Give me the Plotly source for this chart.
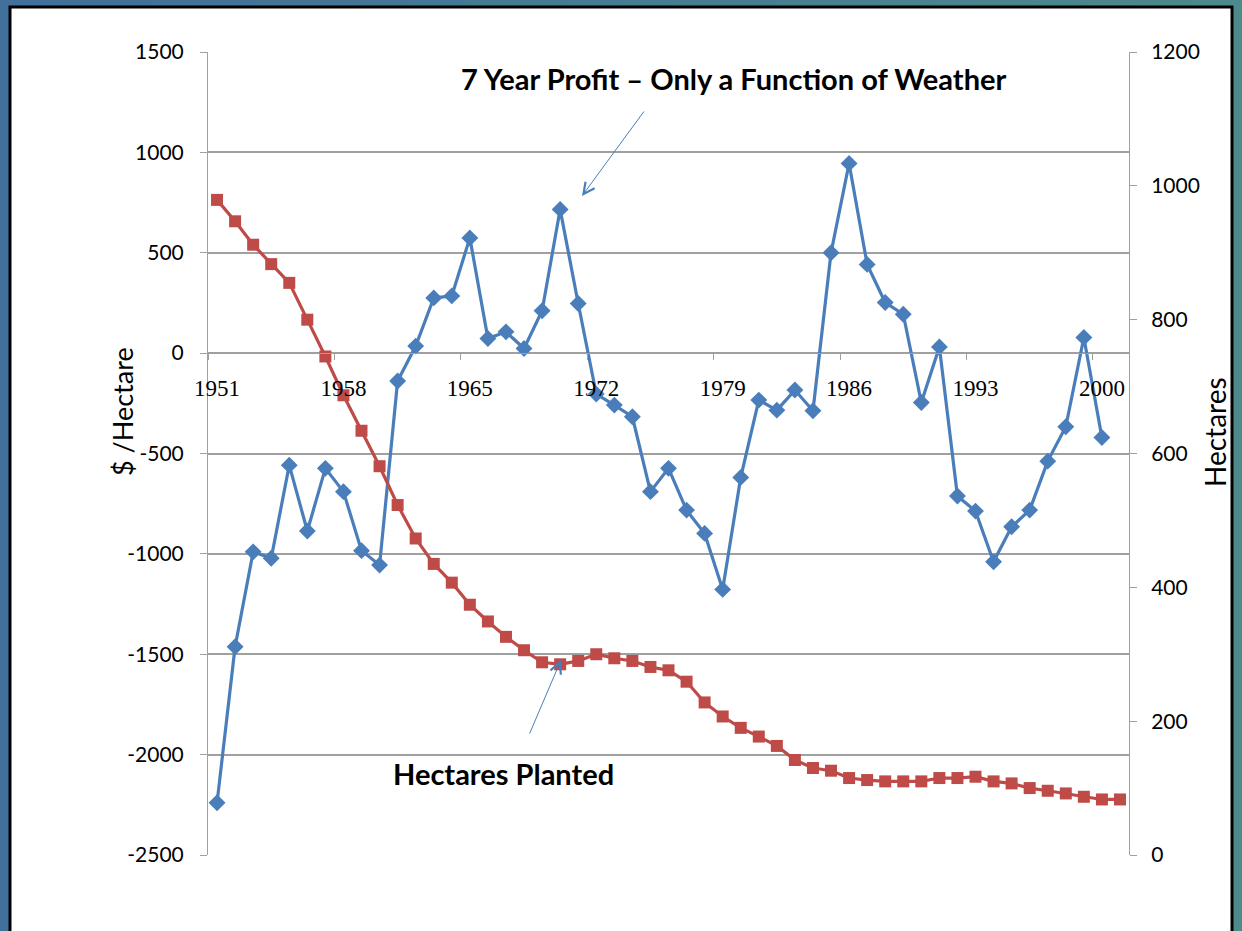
import plotly.graph_objects as go

# Years on the category axis
years_profit = list(range(1951, 2001))
years_area = list(range(1951, 2002))
tick_years = [1951, 1958, 1965, 1972, 1979, 1986, 1993, 2000]
profit_ticks = [-2500, -2000, -1500, -1000, -500, 0, 500, 1000, 1500]

# 7-year profit, $/hectare
profit = [-2240, -1463, -990, -1022, -558, -886, -574, -690, -984, -1056,
          -139, 35, 275, 285, 574, 73, 106, 23, 211, 716,
          247, -204, -259, -317, -690, -574, -782, -898, -1177, -619,
          -234, -284, -184, -287, 500, 945, 442, 252, 194, -246,
          31, -712, -787, -1039, -865, -782, -538, -367, 78, -420]

# Hectares planted
hectares = [979, 947, 912, 883, 855, 800, 745, 687, 634, 581,
            523, 473, 435, 407, 374, 349, 326, 306, 288, 285,
            290, 300, 294, 290, 281, 276, 259, 228, 207, 190,
            177, 163, 142, 130, 126, 115, 112, 110, 110, 110,
            115, 115, 117, 110, 107, 100, 96, 92, 87, 83, 83]

W, H = 1242, 931
L, R, T, B = 208, 1129, 52, 855  # plot-area edges in pixels


def px(x, y):
    """Pixel position -> paper coordinates."""
    return (x - L) / (R - L), (B - y) / (B - T)


BLUE = "#4A7EBB"
RED = "#BE4B48"
GRID = "#A0A0A0"
FONT = "Lato"

fig = go.Figure()
fig.add_trace(go.Scatter(
    x=years_profit, y=profit, mode="lines+markers",
    line=dict(color=BLUE, width=3.2),
    marker=dict(symbol="diamond", size=13, color=BLUE),
    yaxis="y", showlegend=False,
))
fig.add_trace(go.Scatter(
    x=years_area, y=hectares, mode="lines+markers",
    line=dict(color=RED, width=3.2),
    marker=dict(symbol="square", size=12, color=RED),
    yaxis="y2", showlegend=False,
))

# Page frame: blue border with a white slide area
shapes = []
n = 24
for i in range(n):
    f = i / (n - 1)
    r = int(0x41 + (0x4C - 0x41) * f)
    g = int(0x70 + (0x8A - 0x70) * f)
    b = int(0x9A + (0x8C - 0x9A) * f)
    x0, _ = px(W * i / n, 0)
    x1, _ = px(W * (i + 1) / n + 1, 0)
    _, y0 = px(0, H)
    _, y1 = px(0, 0)
    shapes.append(dict(type="rect", xref="paper", yref="paper",
                       x0=x0, x1=x1, y0=y0, y1=y1, layer="below",
                       line=dict(width=0), fillcolor=f"rgb({r},{g},{b})"))
fx0, fy1 = px(10, 7)
fx1, fy0 = px(1232, H + 10)
shapes.append(dict(type="rect", xref="paper", yref="paper",
                   x0=fx0, x1=fx1, y0=fy0, y1=fy1, layer="below",
                   line=dict(color="black", width=3), fillcolor="white"))

annotations = []
tx, ty = px(733, 78)
annotations.append(dict(xref="paper", yref="paper", x=tx, y=ty,
                        text="<b>7 Year Profit – Only a Function of Weather</b>",
                        showarrow=False, font=dict(family=FONT, size=29, color="black"),
                        xanchor="center", yanchor="middle"))
hx, hy = px(503, 773)
annotations.append(dict(xref="paper", yref="paper", x=hx, y=hy,
                        text="<b>Hectares Planted</b>", showarrow=False,
                        font=dict(family=FONT, size=29, color="black"),
                        xanchor="center", yanchor="middle"))
a1x, a1y = px(582, 196)
annotations.append(dict(xref="paper", yref="paper", x=a1x, y=a1y, text="",
                        showarrow=True, ax=63, ay=-86, arrowhead=5, arrowsize=2.2,
                        arrowwidth=1, arrowcolor=BLUE))
a2x, a2y = px(561, 660)
annotations.append(dict(xref="paper", yref="paper", x=a2x, y=a2y, text="",
                        showarrow=True, ax=-32, ay=75, arrowhead=5, arrowsize=2.2,
                        arrowwidth=1, arrowcolor=BLUE))

# Axis titles
lx, ly = px(122, 412)
annotations.append(dict(xref="paper", yref="paper", x=lx, y=ly, text="$ /Hectare",
                        textangle=-90, showarrow=False,
                        font=dict(family=FONT, size=27, color="black"),
                        xanchor="center", yanchor="middle"))
rx, ry = px(1215, 432)
annotations.append(dict(xref="paper", yref="paper", x=rx, y=ry, text="Hectares",
                        textangle=-90, showarrow=False,
                        font=dict(family=FONT, size=28, color="black"),
                        xanchor="center", yanchor="middle"))

fig.update_layout(
    width=W, height=H,
    margin=dict(l=L, r=W - R, t=T, b=H - B, pad=0),
    paper_bgcolor="white", plot_bgcolor="rgba(0,0,0,0)",
    font=dict(family=FONT, color="black"),
    shapes=shapes, annotations=annotations,
    xaxis=dict(
        range=[1950.5, 2001.5], tickvals=tick_years,
        ticktext=[str(y) for y in tick_years],
        anchor="free", position=2500 / 4000,
        showgrid=False, zeroline=False, showline=True, linecolor=GRID, linewidth=1,
        ticks="", tickfont=dict(family="Liberation Serif", size=23, color="black"),
        ticklabelstandoff=14,
        minor=dict(tick0=1950.5, dtick=7, ticks="outside", ticklen=6,
                   tickcolor=GRID, showgrid=False),
    ),
    yaxis=dict(
        range=[-2500, 1500], tickvals=profit_ticks,
        ticktext=[str(v) for v in profit_ticks],
        showgrid=True, gridcolor=GRID, gridwidth=1.5,
        zeroline=False, showline=True, linecolor=GRID, linewidth=1,
        ticks="outside", ticklen=7, tickcolor=GRID,
        tickfont=dict(family=FONT, size=21, color="black"),
        ticklabelstandoff=12,
    ),
    yaxis2=dict(
        range=[0, 1200], dtick=200, overlaying="y", side="right",
        showgrid=False, zeroline=False, showline=True, linecolor=GRID, linewidth=1,
        ticks="outside", ticklen=7, tickcolor=GRID,
        tickfont=dict(family=FONT, size=21, color="black"),
        ticklabelstandoff=10,
    ),
)

fig.write_html("out.html")
